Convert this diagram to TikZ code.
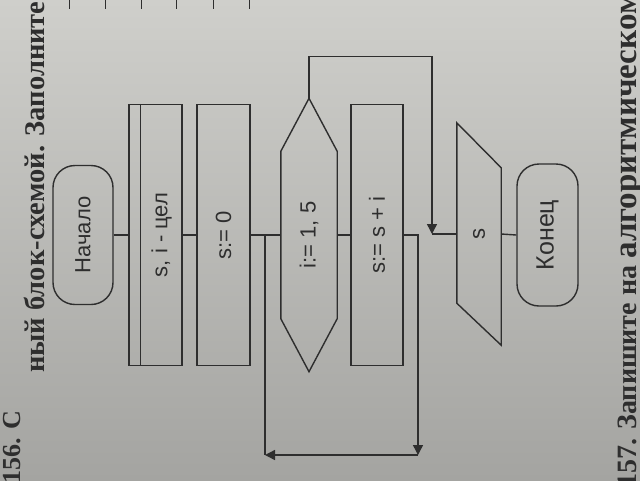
\documentclass[tikz,border=0pt]{standalone}
\usepackage{fontspec}
\setmainfont{Liberation Sans}
\newfontfamily\bookfont{Liberation Serif}
\usetikzlibrary{arrows.meta,calc}
\definecolor{ink}{HTML}{2E2E2E}
\definecolor{paperT}{HTML}{CFCFCB}
\definecolor{paperB}{HTML}{A4A4A1}
\begin{document}
\begin{tikzpicture}[x=1pt,y=-1pt,
  blk/.style={draw=ink, line width=1.4pt, inner sep=0pt, text=ink,
              font=\fontsize{22}{24}\selectfont},
  ghost/.style={inner sep=0pt, text=ink, font=\fontsize{22}{24}\selectfont},
  con/.style={draw=ink, line width=1.4pt},
  arr/.style={con, -{Triangle[length=10pt,width=10pt]}},
  booktext/.style={inner sep=0pt, text=ink, rotate=90, anchor=base west,
              font=\bookfont\bfseries\fontsize{28.5}{30}\selectfont}]
\useasboundingbox (0,0) rectangle (640,480);
\clip (0,0) rectangle (640,480);
\shade[top color=paperT, bottom color=paperB] (0,0) rectangle (640,480);

% page text
\node[booktext, font=\bookfont\bfseries\fontsize{26}{28}\selectfont] (t156) at (20,484) {156. С};
\node[booktext] (t156b) at (44,373) {ный блок-схемой. Заполните};
\node[booktext, font=\bookfont\bfseries\fontsize{28}{30}\selectfont] (t157) at (636,488)
  {157. Запишите на {\fontsize{33}{34}\selectfont алгоритмическом}};
\foreach \x in {69,105,141,176,213,249} \draw[con, line width=1pt] (\x,0) -- (\x,9);

% flowchart
\node[blk, rounded corners=22pt, minimum width=60pt, minimum height=139pt] (start) at (83,235) {\rotatebox{90}{Начало}};
\node[blk, minimum width=53pt, minimum height=261pt] (decl) at (155.5,235) {\hspace*{12pt}\rotatebox{90}{s, i - цел}};
\node[blk, minimum width=53pt, minimum height=261pt] (init) at (223.5,235) {\rotatebox{90}{s:= 0}};
\node[ghost, minimum width=56pt, minimum height=273pt] (loop) at (309,235) {\rotatebox{90}{i:= 1, 5}};
\node[blk, minimum width=52pt, minimum height=261pt] (body) at (377,235) {\rotatebox{90}{s:= s + i}};
\node[ghost, minimum width=44pt, minimum height=222pt] (out) at (479,234) {\rotatebox{90}{s}};
\node[blk, rounded corners=22pt, minimum width=61pt, minimum height=142pt, font=\fontsize{25}{27}\selectfont] (end) at (547.5,235) {\rotatebox{90}{Конец}};

\draw[con] ($(decl.north west)+(12,0)$) -- ($(decl.south west)+(12,0)$);
\draw[con] (loop.north) -- ($(loop.north west)+(0,53)$) -- ($(loop.south west)+(0,-53)$)
  -- (loop.south) -- ($(loop.south east)+(0,-53)$) -- ($(loop.north east)+(0,53)$) -- cycle;
\draw[con] (out.north west) -- ($(out.north east)+(0,45)$) -- (out.south east)
  -- ($(out.south west)+(0,-42)$) -- cycle;

\coordinate (j1) at (265,235);
\coordinate (j2) at (432,234);
\coordinate (c1) at (418,455);
\coordinate (c2) at (265,455);

\draw[con] (start.east) -- (decl.west);
\draw[con] (decl.east) -- (init.west);
\draw[con] (init.east) -- (loop.west);
\draw[con] (loop.east) -- (body.west);
\draw[arr] (loop.north) -- ++(0,-42) -| (j2);
\draw[con] (j2) -- (out.west);
\draw[arr] (body.east) -| (c1);
\draw[arr] (c1) -- (c2);
\draw[con] (c2) -- (j1);
\draw[con] (out.east) -- (end.west);
\end{tikzpicture}
\end{document}
